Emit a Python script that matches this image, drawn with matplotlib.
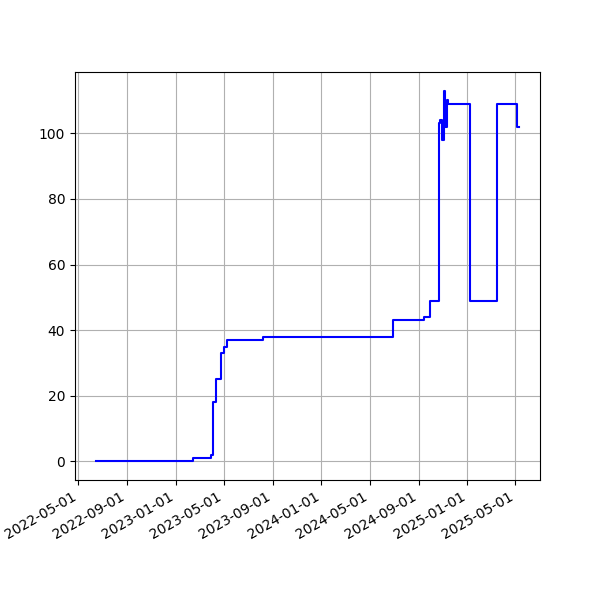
import matplotlib
matplotlib.use("Agg")
import matplotlib.pyplot as plt
import matplotlib.dates as mdates
import pandas as pd

dates = ["2022-06-15", "2023-02-12", "2023-03-30", "2023-04-04", "2023-04-11",
         "2023-04-25", "2023-05-01", "2023-05-10", "2023-08-07", "2024-06-28",
         "2024-09-15", "2024-09-30", "2024-10-21", "2024-10-25", "2024-10-29",
         "2024-11-04", "2024-11-07", "2024-11-10", "2024-11-13", "2025-01-07",
         "2025-03-16", "2025-05-05", "2025-05-10"]
values = [0, 1, 2, 18, 25, 33, 35, 37, 38, 43, 44, 49, 103, 104, 98, 113, 102,
          110, 109, 49, 109, 102, 102]

x = pd.to_datetime(dates)

fig, ax = plt.subplots(figsize=(6, 6), dpi=100)
ax.step(x, values, where="post", color="blue", linewidth=1.5)
ax.xaxis.set_major_locator(mdates.MonthLocator(bymonth=[1, 5, 9]))
ax.xaxis.set_major_formatter(mdates.DateFormatter("%Y-%m-%d"))
ax.grid(True)
fig.autofmt_xdate()
fig.savefig("out.png")
